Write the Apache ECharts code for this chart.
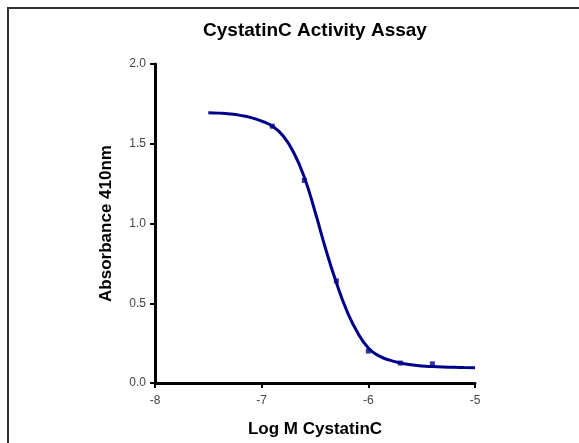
<!DOCTYPE html>
<html lang="en">
<head>
<meta charset="UTF-8">
<title>CystatinC Activity Assay</title>
<script src="https://cdn.jsdelivr.net/npm/echarts@6/dist/echarts.min.js"></script>
</head>
<body style="margin:0;background:#fff">
<div id="main" style="width:579px;height:443px"></div>
<script>
// measured points (log M vs absorbance)
var logConc = [-6.9, -6.6, -6.3, -6.0, -5.7, -5.4];
var absorbance = [1.61, 1.27, 0.64, 0.20, 0.125, 0.12];

// fitted curve
var fitX = [-7.5, -7.4, -7.3, -7.2, -7.1, -7.0, -6.9, -6.8, -6.7, -6.6, -6.5, -6.4, -6.3,
            -6.2, -6.1, -6.0, -5.9, -5.8, -5.7, -5.6, -5.5, -5.4, -5.3, -5.2, -5.1, -5.0];
var fitY = [1.695, 1.692, 1.687, 1.678, 1.664, 1.642, 1.610, 1.550, 1.445, 1.290, 1.075, 0.840, 0.630,
            0.450, 0.315, 0.220, 0.170, 0.143, 0.126, 0.114, 0.107, 0.103, 0.100, 0.098, 0.097, 0.096];

var xTicks = [-8, -7, -6, -5];
var yTicks = [0, 0.5, 1.0, 1.5, 2.0];

var navy = '#00008B';

var chart = echarts.init(document.getElementById('main'));

var fitData = fitX.map(function (x, i) { return [x, fitY[i]]; });
var pointData = logConc.map(function (x, i) { return [x, absorbance[i]]; });

chart.setOption({
    animation: false,
    title: {
        text: 'CystatinC Activity Assay',
        left: 315,
        top: 21,
        padding: 0,
        textAlign: 'center',
        textStyle: { fontFamily: 'Arial', fontWeight: 'bold', fontSize: 19, color: '#000' }
    },
    // frame round the plot area (runs off the right and bottom edges)
    graphic: [{
        type: 'rect',
        shape: { x: 8, y: 8, width: 620, height: 500 },
        style: { fill: 'none', stroke: '#333', lineWidth: 2 },
        silent: true
    }],
    grid: { left: 155, right: 104, top: 64, bottom: 58.5 },
    xAxis: {
        type: 'value',
        min: xTicks[0],
        max: xTicks[xTicks.length - 1],
        interval: 1,
        name: 'Log M CystatinC',
        nameLocation: 'middle',
        nameGap: 38,
        nameTextStyle: { fontFamily: 'Arial', fontWeight: 'bold', fontSize: 17, color: '#000' },
        axisLine: { onZero: false, lineStyle: { color: '#000', width: 3 } },
        axisTick: { length: 5, lineStyle: { color: '#000', width: 2 } },
        axisLabel: { fontFamily: 'Arial', fontSize: 12, color: '#444', margin: 12 },
        splitLine: { show: false }
    },
    yAxis: {
        type: 'value',
        min: yTicks[0],
        max: yTicks[yTicks.length - 1],
        interval: 0.5,
        name: 'Absorbance 410nm',
        nameLocation: 'middle',
        nameGap: 40,
        nameTextStyle: { fontFamily: 'Arial', fontWeight: 'bold', fontSize: 17, color: '#000' },
        axisLine: { show: true, onZero: false, lineStyle: { color: '#000', width: 3 } },
        axisTick: { show: true, length: 5, lineStyle: { color: '#000', width: 2 } },
        axisLabel: {
            fontFamily: 'Arial', fontSize: 12, color: '#444', margin: 9,
            formatter: function (v) { return v.toFixed(1); }
        },
        splitLine: { show: false }
    },
    series: [{
        type: 'line',
        data: fitData,
        smooth: true,
        showSymbol: false,
        lineStyle: { color: navy, width: 3 },
        z: 2
    }, {
        type: 'scatter',
        data: pointData,
        symbol: 'rect',
        symbolSize: 5,
        itemStyle: { color: navy },
        z: 3
    }]
});
</script>
</body>
</html>
